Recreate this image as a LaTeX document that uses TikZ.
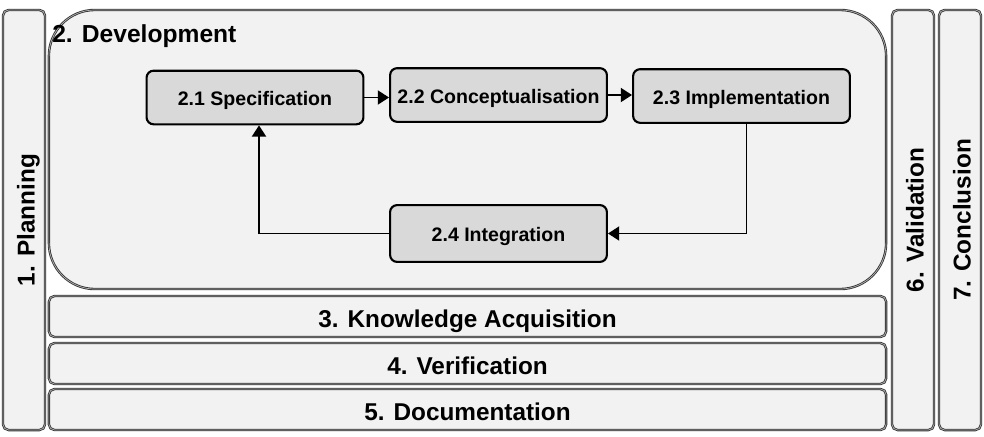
\documentclass[tikz,border=0pt]{standalone}
\usepackage{fontspec}
\setmainfont{Liberation Sans}
\usepackage{tikz}
\usetikzlibrary{arrows.meta, positioning, calc}
\usepackage{xcolor}
\definecolor{phasefill}{HTML}{F2F2F2}
\definecolor{stepfill}{HTML}{D9D9D9}

\begin{document}
\begin{tikzpicture}[
    x=0.025cm, y=-0.025cm,
    every node/.style={font=\bfseries},
    phase/.style={rectangle, rounded corners=4pt, draw=black!80, double=black!30, double distance=0.5pt, line width=0.6pt, fill=phasefill, inner sep=0pt, text height=15pt, text depth=0pt, font=\fontsize{17.3}{20}\selectfont\bfseries},
    vphase/.style={phase, rotate=90, minimum width=10.5cm, minimum height=1.05cm},
    hphase/.style={phase, minimum width=20.925cm, minimum height=1.025cm},
    stepbox/.style={rectangle, rounded corners=5pt, draw, line width=1.5pt, fill=stepfill, minimum width=5.42cm, minimum height=1.34cm, inner sep=0pt, text height=12pt, text depth=0pt, font=\fontsize{13.9}{16}\selectfont\bfseries},
    arrow/.style={-{Triangle[length=8pt, width=10pt]}, line width=1.3pt},
]
\useasboundingbox[fill=white] (0,0) rectangle (984,436);

% Outer phases
\node[vphase] (planning) at (24,220) {1. Planning};
\node[phase, rounded corners=1.15cm, minimum width=20.925cm, minimum height=6.975cm] (development) at (467.5,149.5) {};
\node[anchor=west, font=\fontsize{17.5}{20}\selectfont\bfseries, inner sep=0pt] (devlabel) at (52,36) {2. Development};
\node[hphase] (knowledge) at (467.5,316.5) {3. Knowledge Acquisition};
\node[hphase] (verification) at (467.5,363.5) {4. Verification};
\node[hphase] (documentation) at (467.5,409.5) {5. Documentation};
\node[vphase] (validation) at (913,220) {6. Validation};
\node[vphase] (conclusion) at (960,220) {7. Conclusion};

% Development steps
\node[stepbox] (spec) at (255,97.5) {2.1 Specification};
\node[stepbox] (concept) at (498.5,95) {2.2 Conceptualisation};
\node[stepbox] (impl) at (741.5,96) {2.3 Implementation};
\node[stepbox, minimum height=1.42cm] (integ) at (498.5,233.5) {2.4 Integration};

% Arrows
\draw[arrow] (spec.east) -- (concept.west |- spec.east);
\draw[arrow] (concept) -- (impl.west |- concept);
\draw[arrow] ($(impl.south)+(5,0)$) |- (integ.east);
\draw[arrow] (integ.west) -| ($(spec.south)+(4,0)$);

\end{tikzpicture}
\end{document}
